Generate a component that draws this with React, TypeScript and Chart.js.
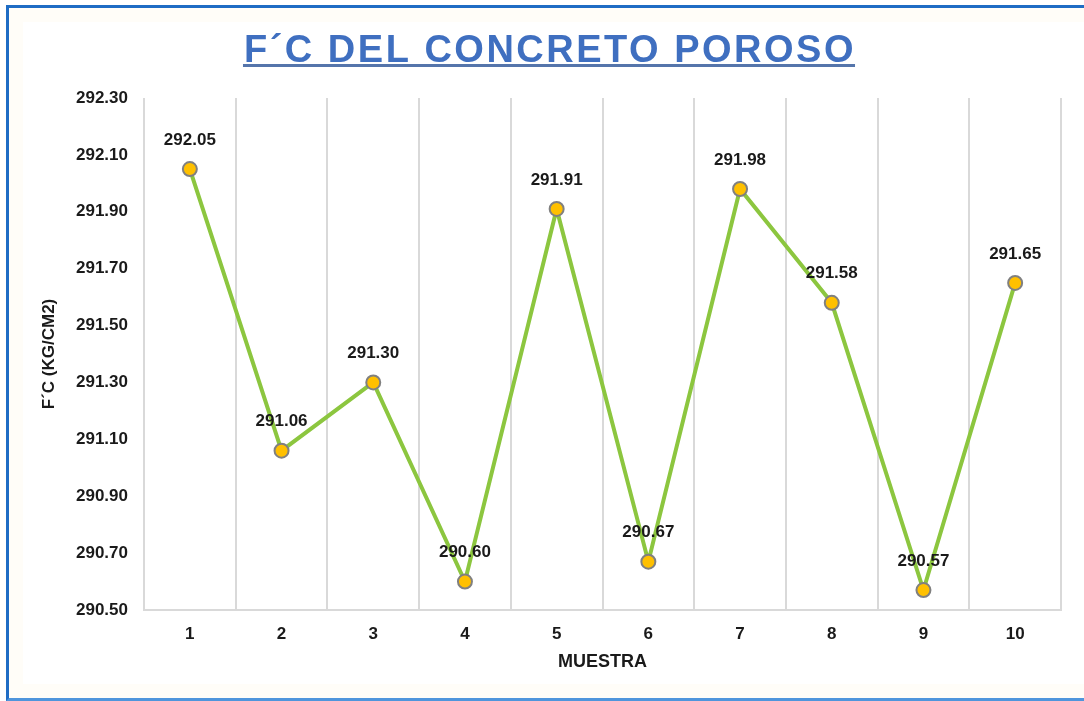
import React, { useEffect, useRef } from "react";
import { Chart, registerables } from "chart.js";

Chart.register(...registerables);

const TITLE = "F´C DEL CONCRETO POROSO";
const Y_TITLE = "F´C (KG/CM2)";
const X_TITLE = "MUESTRA";
const categories = ["1", "2", "3", "4", "5", "6", "7", "8", "9", "10"];
const fcValues = [292.05, 291.06, 291.3, 290.6, 291.91, 290.67, 291.98, 291.58, 290.57, 291.65];
const yTickValues = [290.5, 290.7, 290.9, 291.1, 291.3, 291.5, 291.7, 291.9, 292.1, 292.3];

const FONT = "'Liberation Sans', Arial, sans-serif";

const titlePlugin = {
  id: "customTitle",
  afterDraw(chart: any) {
    const ctx = chart.ctx;
    ctx.save();
    ctx.font = `bold 38px ${FONT}`;
    try {
      (ctx as any).letterSpacing = "2.5px";
    } catch (e) {}
    const w = ctx.measureText(TITLE).width;
    const cx = 550;
    const x0 = cx - w / 2;
    ctx.fillStyle = "#3f6fc0";
    ctx.textAlign = "left";
    ctx.textBaseline = "alphabetic";
    ctx.fillText(TITLE, x0, 62);
    ctx.fillStyle = "#5575ab";
    ctx.fillRect(x0 - 1, 64, w, 3);
    ctx.restore();
  },
};

const labelPlugin = {
  id: "pointLabels",
  afterDatasetsDraw(chart: any) {
    const ctx = chart.ctx;
    const meta = chart.getDatasetMeta(0);
    const data = chart.data.datasets[0].data as number[];
    ctx.save();
    ctx.font = `bold 17px ${FONT}`;
    ctx.fillStyle = "#1a1a1a";
    ctx.textAlign = "center";
    ctx.textBaseline = "middle";
    meta.data.forEach((pt: any, i: number) => {
      ctx.fillText(data[i].toFixed(2), pt.x, pt.y - 29);
    });
    ctx.restore();
  },
};

export default function App() {
  const ref = useRef<HTMLCanvasElement | null>(null);

  useEffect(() => {
    if (!ref.current) return;
    const chart = new Chart(ref.current, {
      type: "line",
      data: {
        labels: categories,
        datasets: [
          {
            data: fcValues,
            borderColor: "#8cc63f",
            borderWidth: 4,
            pointRadius: 7,
            pointBackgroundColor: "#ffc000",
            pointBorderColor: "#808080",
            pointBorderWidth: 2,
            tension: 0,
            fill: false,
          },
        ],
      },
      options: {
        animation: false,
        responsive: false,
        maintainAspectRatio: false,
        layout: { padding: { left: 0, top: 98, right: 23, bottom: 0 } },
        plugins: {
          legend: { display: false },
          tooltip: { enabled: false },
          title: { display: false },
        },
        scales: {
          x: {
            offset: true,
            grid: {
              display: true,
              offset: true,
              color: "#d9d9d9",
              lineWidth: 2,
              drawTicks: false,
            },
            border: { display: true, color: "#d9d9d9", width: 2 },
            ticks: {
              color: "#1a1a1a",
              font: { family: FONT, size: 17, weight: "bold" },
              padding: 14,
            },
            title: {
              display: true,
              text: X_TITLE,
              color: "#1a1a1a",
              font: { family: FONT, size: 18, weight: "bold" },
              padding: { top: 0, bottom: 28 },
            },
            afterFit(scale: any) {
              scale.height = 91;
            },
          },
          y: {
            min: 290.5,
            max: 292.3,
            grid: { display: false, drawTicks: false },
            border: { display: false },
            afterBuildTicks(scale: any) {
              scale.ticks = yTickValues.map((v) => ({ value: v }));
            },
            ticks: {
              color: "#1a1a1a",
              font: { family: FONT, size: 17, weight: "bold" },
              padding: 16,
              callback: (v: any) => Number(v).toFixed(2),
            },
            title: {
              display: true,
              text: Y_TITLE,
              color: "#1a1a1a",
              font: { family: FONT, size: 17, weight: "bold" },
              padding: { top: 39, bottom: 0 },
            },
            afterFit(scale: any) {
              scale.width = 144;
            },
          },
        },
      },
      plugins: [titlePlugin, labelPlugin],
    });
    return () => chart.destroy();
  }, []);

  return (
    <div style={{ position: "fixed", left: 0, top: 0, width: 1084, height: 701, background: "#ffffff", overflow: "hidden" }}>
      <div
        style={{
          position: "absolute",
          left: 6,
          top: 5,
          width: 1100,
          height: 690,
          borderTop: "3px solid #1f6cc4",
          borderLeft: "3px solid #1f6cc4",
          borderBottom: "3px solid #4f95dc",
          background: "#fffdf8",
        }}
      >
        <div style={{ position: "absolute", left: 14, top: 14, right: 0, bottom: 14, background: "#ffffff" }} />
      </div>
      <canvas ref={ref} width={1084} height={701} style={{ position: "absolute", left: 0, top: 0, width: 1084, height: 701 }} />
    </div>
  );
}
